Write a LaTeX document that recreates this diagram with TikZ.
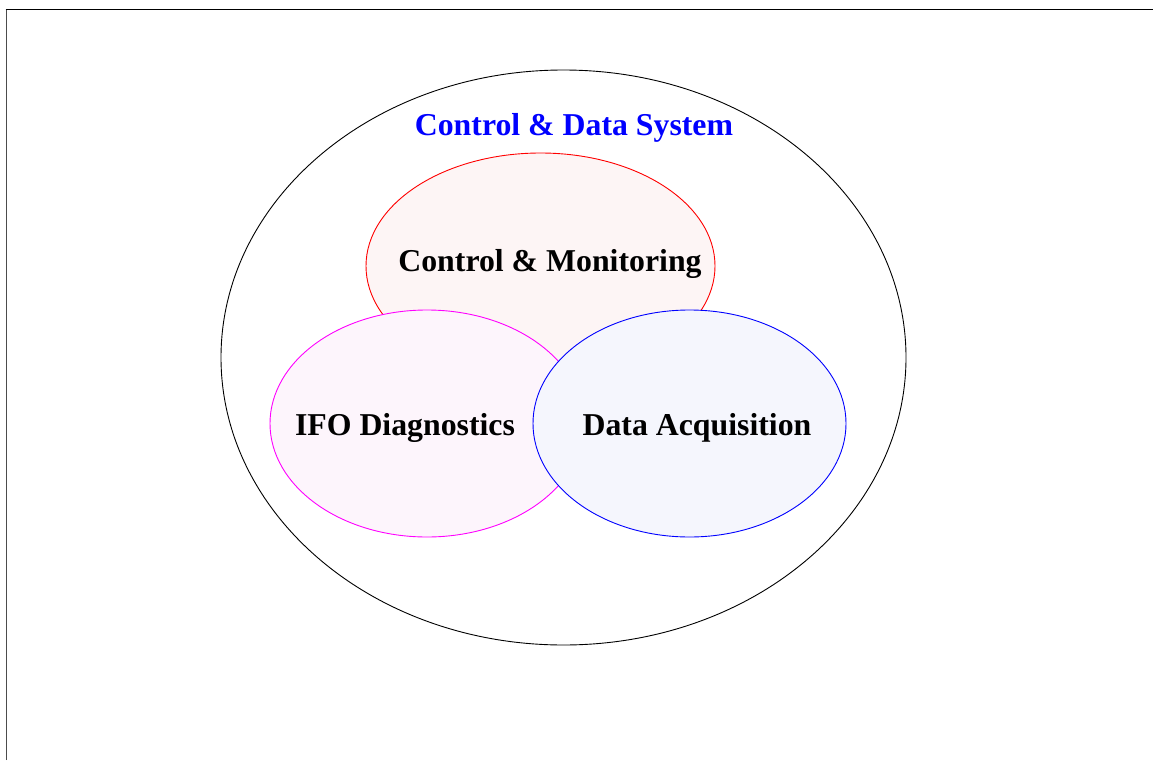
\documentclass[tikz,border=0pt]{standalone}
\usepackage{fontspec}
\setmainfont{Liberation Serif}
\definecolor{mag}{RGB}{255,0,255}
\definecolor{magfill}{RGB}{253,245,252}
\definecolor{redfill}{RGB}{253,245,245}
\definecolor{bluefill}{RGB}{245,246,253}
\begin{document}
\begin{tikzpicture}[x=1pt,y=-1pt,
  lbl/.style={font=\fontsize{31.8}{38}\selectfont\bfseries},
  ring/.style={line width=0.9pt}]
\useasboundingbox (0,0) rectangle (1153,760);
\draw[line width=1.6pt, black!70] (6.5,760) -- (6.5,9.5);
\draw[line width=1.6pt, black] (5.7,9.5) -- (1153,9.5);
\draw[ring] (563.5,357.5) ellipse [x radius=342.5, y radius=287.5];
\node[lbl, text=blue] (sys) at (574,128) {Control \& Data System};
\filldraw[ring, draw=red, fill=redfill] (540.5,266) ellipse [x radius=174.5, y radius=113];
\filldraw[ring, draw=mag, fill=magfill] (427,423.5) ellipse [x radius=157, y radius=113.5];
\filldraw[ring, draw=blue, fill=bluefill] (689.5,423.5) ellipse [x radius=156.5, y radius=113.5];
\node[lbl] (cm) at (550,264) {Control \& Monitoring};
\node[lbl] (ifo) at (405,428) {IFO Diagnostics};
\node[lbl] (daq) at (697,428) {Data Acquisition};
\end{tikzpicture}
\end{document}
